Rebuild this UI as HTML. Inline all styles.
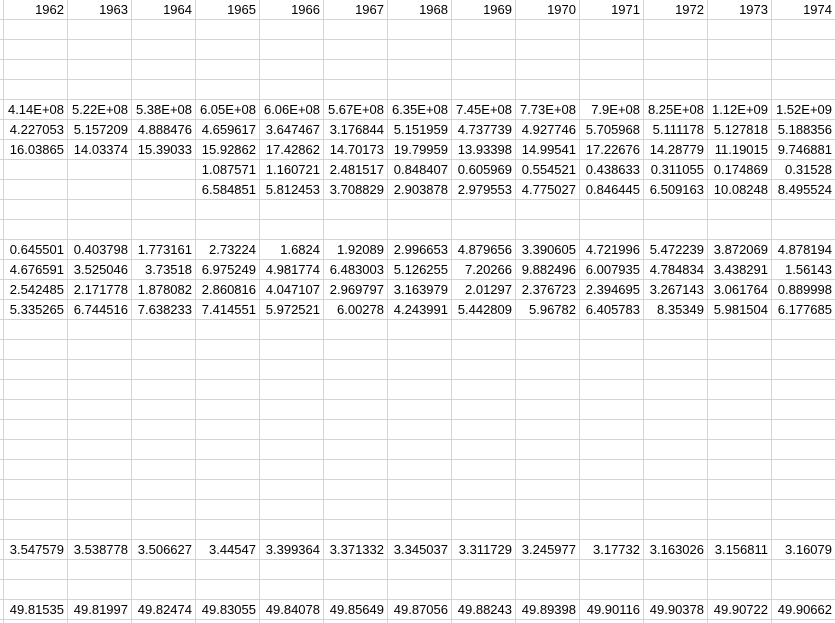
<!DOCTYPE html>
<html><head><meta charset="utf-8"><style>
body{margin:0;width:836px;height:623px;overflow:hidden;background:#fff;font-family:"Liberation Sans",sans-serif;}
#g{position:absolute;left:0;top:0;width:836px;height:623px;}
.vl{position:absolute;top:0;width:1px;height:623px;background:#d4d4d4;}
.hl{position:absolute;left:0;height:1px;width:836px;background:#d4d4d4;}
.c{position:absolute;width:60px;height:20px;line-height:20px;text-align:right;font-size:13px;color:#000;white-space:nowrap;}
</style></head><body>
<div id="g"></div>
<script>
const years=["1962","1963","1964","1965","1966","1967","1968","1969","1970","1971","1972","1973","1974"];
const r5=["4.14E+08","5.22E+08","5.38E+08","6.05E+08","6.06E+08","5.67E+08","6.35E+08","7.45E+08","7.73E+08","7.9E+08","8.25E+08","1.12E+09","1.52E+09"];
const r6=["4.227053","5.157209","4.888476","4.659617","3.647467","3.176844","5.151959","4.737739","4.927746","5.705968","5.111178","5.127818","5.188356"];
const r7=["16.03865","14.03374","15.39033","15.92862","17.42862","14.70173","19.79959","13.93398","14.99541","17.22676","14.28779","11.19015","9.746881"];
const r8=["","","","1.087571","1.160721","2.481517","0.848407","0.605969","0.554521","0.438633","0.311055","0.174869","0.31528"];
const r9=["","","","6.584851","5.812453","3.708829","2.903878","2.979553","4.775027","0.846445","6.509163","10.08248","8.495524"];
const r12=["0.645501","0.403798","1.773161","2.73224","1.6824","1.92089","2.996653","4.879656","3.390605","4.721996","5.472239","3.872069","4.878194"];
const r13=["4.676591","3.525046","3.73518","6.975249","4.981774","6.483003","5.126255","7.20266","9.882496","6.007935","4.784834","3.438291","1.56143"];
const r14=["2.542485","2.171778","1.878082","2.860816","4.047107","2.969797","3.163979","2.01297","2.376723","2.394695","3.267143","3.061764","0.889998"];
const r15=["5.335265","6.744516","7.638233","7.414551","5.972521","6.00278","4.243991","5.442809","5.96782","6.405783","8.35349","5.981504","6.177685"];
const r27=["3.547579","3.538778","3.506627","3.44547","3.399364","3.371332","3.345037","3.311729","3.245977","3.17732","3.163026","3.156811","3.16079"];
const r30=["49.81535","49.81997","49.82474","49.83055","49.84078","49.85649","49.87056","49.88243","49.89398","49.90116","49.90378","49.90722","49.90662"];
const rows=[[0,years],[5,r5],[6,r6],[7,r7],[8,r8],[9,r9],[12,r12],[13,r13],[14,r14],[15,r15],[27,r27],[30,r30]];
const g=document.getElementById('g');
for(let i=0;i<=13;i++){const d=document.createElement('div');d.className='vl';d.style.left=(3+64*i)+'px';


g.appendChild(d);}
for(let j=0;j<31;j++){const d=document.createElement('div');d.className='hl';d.style.top=(19+20*j)+'px';


g.appendChild(d);}
rows.forEach(([ri,vals])=>{vals.forEach((v,ci)=>{if(!v)return;const c=document.createElement('div');c.className='c';
c.style.left=(4+64*ci)+'px';c.style.top=(ri===0?0:(20+20*(ri-1)))+'px';c.textContent=v;


g.appendChild(c);});});
</script>
</body></html>
